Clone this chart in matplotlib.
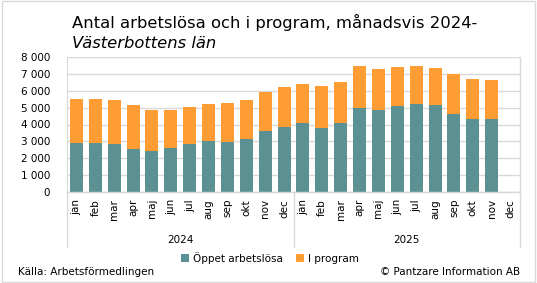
import matplotlib.pyplot as plt
import numpy as np
from matplotlib.patches import Rectangle
from matplotlib.transforms import blended_transform_factory

# Data
months = ['jan', 'feb', 'mar', 'apr', 'maj', 'jun', 'jul', 'aug', 'sep', 'okt', 'nov', 'dec']
years = ['2024', '2025']
oppet = [2900, 2900, 2850, 2570, 2450, 2630, 2850, 3040, 2980, 3160, 3640, 3870,
         4070, 3810, 4070, 5000, 4880, 5120, 5240, 5180, 4640, 4350, 4350, np.nan]
total = [5530, 5530, 5470, 5180, 4880, 4880, 5060, 5240, 5300, 5470, 5950, 6250,
         6420, 6300, 6540, 7490, 7310, 7430, 7490, 7370, 7020, 6720, 6660, np.nan]
program = [t - o for t, o in zip(total, oppet)]

teal = '#5b9192'
orange = '#ff9c33'
grid_c = '#d9d9d9'

plt.rcParams['font.family'] = 'DejaVu Sans'

fig = plt.figure(figsize=(5.37, 2.83), dpi=100)
fig.patches.append(Rectangle((0.004, 0.005), 0.992, 0.99, transform=fig.transFigure,
                             fill=False, edgecolor='#d9d9d9', lw=1))

ax = fig.add_axes([67 / 537, 1 - 192 / 283, 453 / 537, 135 / 283])
x = np.arange(len(oppet))
ax.bar(x, oppet, width=0.69, color=teal, label='Öppet arbetslösa')
ax.bar(x, program, width=0.69, bottom=oppet, color=orange, label='I program')

ax.set_xlim(-0.5, len(x) - 0.5)
ax.set_ylim(0, 8000)
ax.set_yticks(range(0, 8001, 1000))
ax.set_yticklabels([f'{v:,}'.replace(',', ' ') for v in range(0, 8001, 1000)], fontsize=7.5)
ax.yaxis.grid(True, color=grid_c, lw=1)
ax.set_axisbelow(True)
ax.tick_params(axis='y', length=0, pad=12)

ax.set_xticks(x)
ax.set_xticklabels(months * 2, rotation=90, fontsize=7.5)
ax.tick_params(axis='x', length=0, pad=5)

for s in ['top', 'right', 'bottom']:
    ax.spines[s].set_visible(False)
ax.spines['left'].set_color(grid_c)
ax.plot([1, 1], [0, 1], transform=ax.transAxes, color=grid_c, lw=1, clip_on=False)

# year level of the category axis
tr = blended_transform_factory(ax.transData, ax.transAxes)
for xs in [-0.5, 11.5, 23.5]:
    ax.plot([xs, xs], [0, -0.41], transform=tr, color=grid_c, lw=1, clip_on=False)
ax.plot([-0.5, 23.5], [0, 0], transform=tr, color=grid_c, lw=1, clip_on=False)
for i, yr in enumerate(years):
    ax.text(i * 12 + 5.5, -0.355, yr, transform=tr, ha='center', va='center', fontsize=7.5)

fig.text(72 / 537, 1 - 22 / 283, 'Antal arbetslösa och i program, månadsvis 2024-',
         fontsize=11.8, va='center', ha='left')
fig.text(72 / 537, 1 - 44 / 283, 'Västerbottens län', fontsize=11.8, style='italic',
         va='center', ha='left')

fig.legend(loc='center', bbox_to_anchor=(270 / 537, 1 - 258 / 283), ncol=2, frameon=False,
           fontsize=7.5, handlelength=0.8, handleheight=0.8, handletextpad=0.4,
           columnspacing=1.2)

fig.text(18 / 537, 1 - 272 / 283, 'Källa: Arbetsförmedlingen', fontsize=7.5, va='center')
fig.text(520 / 537, 1 - 272 / 283, '© Pantzare Information AB', fontsize=7.5, va='center',
         ha='right')

fig.savefig('out.png', dpi=100)
